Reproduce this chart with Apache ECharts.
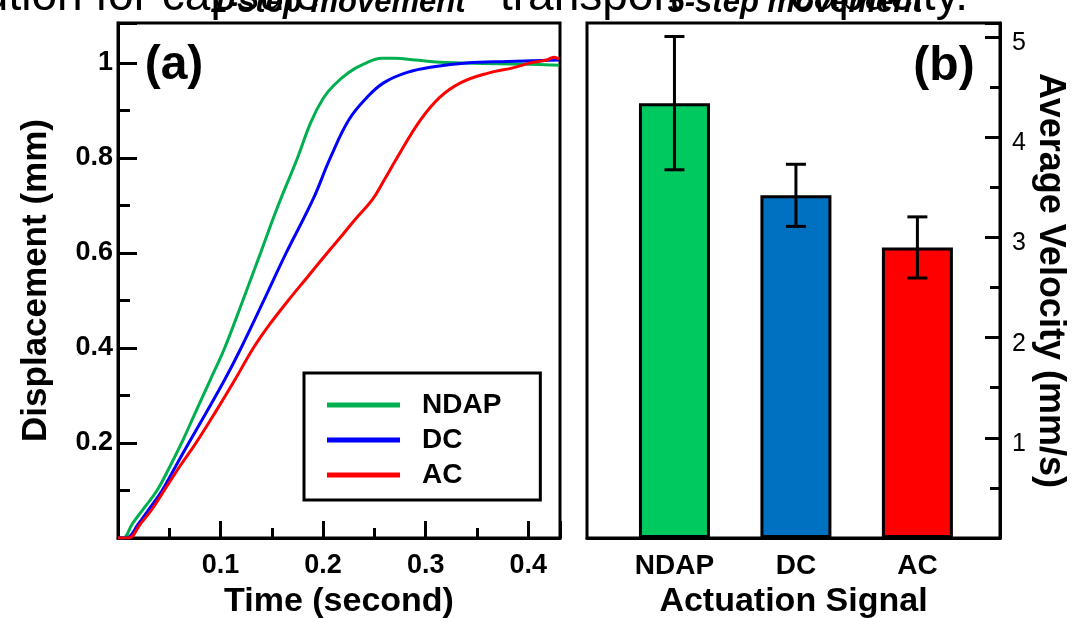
<!doctype html>
<html>
<head>
<meta charset="UTF-8" />
<title>Displacement and average velocity</title>
<script src="https://cdn.jsdelivr.net/npm/echarts/dist/echarts.min.js"></script>
<style>
  html, body { margin: 0; padding: 0; background: #fff; }
  #main { width: 1076px; height: 618px; }
</style>
</head>
<body>
<div id="main"></div>
<script>
  // ---- data: panel (a) displacement curves, [time (s), displacement (mm)]
  const ndapTime = [0, 0.005, 0.014, 0.025, 0.038, 0.05, 0.062, 0.075, 0.09, 0.104, 0.12, 0.139, 0.15, 0.158, 0.175, 0.188, 0.2, 0.21, 0.225, 0.24, 0.257, 0.27, 0.29, 0.31, 0.34, 0.37, 0.4, 0.43];
  const ndapDisp = [0, 0, 0.03, 0.062, 0.1, 0.148, 0.2, 0.262, 0.333, 0.4, 0.49, 0.6, 0.665, 0.71, 0.8, 0.875, 0.925, 0.952, 0.98, 0.998, 1.01, 1.01, 1.006, 1.002, 1.0, 0.998, 0.997, 0.995];

  const dcTime = [0, 0.008, 0.02, 0.03, 0.043, 0.056, 0.069, 0.085, 0.104, 0.12, 0.14, 0.164, 0.19, 0.207, 0.225, 0.243, 0.259, 0.282, 0.308, 0.34, 0.38, 0.43];
  const dcDisp = [0, 0, 0.03, 0.06, 0.1, 0.15, 0.2, 0.26, 0.333, 0.4, 0.49, 0.6, 0.712, 0.8, 0.88, 0.928, 0.958, 0.98, 0.992, 1.0, 1.003, 1.006];

  const acTime = [0, 0.01, 0.022, 0.033, 0.045, 0.06, 0.076, 0.095, 0.114, 0.132, 0.148, 0.166, 0.185, 0.204, 0.22, 0.231, 0.248, 0.26, 0.272, 0.295, 0.314, 0.334, 0.36, 0.386, 0.402, 0.418, 0.425, 0.43];
  const acDisp = [0, 0, 0.03, 0.06, 0.1, 0.15, 0.2, 0.265, 0.333, 0.4, 0.45, 0.5, 0.55, 0.6, 0.641, 0.67, 0.712, 0.755, 0.8, 0.88, 0.928, 0.958, 0.978, 0.99, 1.0, 1.006, 1.012, 1.008];

  // ---- data: panel (b) average velocity (mm/s) with error
  const signals = ['NDAP', 'DC', 'AC'];
  const velocity = [4.34, 3.42, 2.9];
  const velocityErr = [0.665, 0.31, 0.305];

  const lineColors = { NDAP: '#00B050', DC: '#0000FF', AC: '#FF0000' };
  const barColors = ['#00C95F', '#0070C0', '#FF0000'];

  const FONT = '"Liberation Sans", Arial, sans-serif';

  function pairs(xs, ys) {
    return xs.map((x, i) => [x, ys[i]]);
  }

  const chart = echarts.init(document.getElementById('main'));

  const frame = {
    show: true, borderColor: '#000', borderWidth: 3, backgroundColor: 'transparent',
    outerBoundsMode: 'none', containLabel: false
  };
  const blackLine = { color: '#000', width: 3 };

  // tick-only axis: placed on the opposite side with a negative offset so
  // its (outward) ticks land on the frame edge and point into the plot
  function tickAxis(base, interval, len, position, offset) {
    return Object.assign({}, base, {
      type: 'value', interval: interval, position: position, offset: offset,
      axisLine: { show: false, onZero: false },
      axisTick: { show: true, inside: false, length: len, lineStyle: blackLine },
      axisLabel: { show: false },
      splitLine: { show: false }
    });
  }

  const aX = { gridIndex: 0, min: 0, max: 0.431 };
  const aY = { gridIndex: 0, min: 0, max: 1.084 };
  const bY = { gridIndex: 1, min: 0, max: 5.14 };

  const option = {
    backgroundColor: '#fff',
    animation: false,
    textStyle: { fontFamily: FONT },
    grid: [
      Object.assign({ left: 118, top: 23, width: 442, height: 515 }, frame),
      Object.assign({ left: 587, top: 23, width: 413, height: 515 }, frame)
    ],
    legend: {
      data: ['NDAP', 'DC', 'AC'],
      orient: 'vertical',
      left: 304,
      top: 373,
      padding: [17, 39, 10, 23],
      itemGap: 5,
      itemWidth: 73,
      itemHeight: 5,
      icon: 'rect',
      borderColor: '#000',
      borderWidth: 3,
      borderRadius: 0,
      textStyle: {
        fontFamily: FONT, fontWeight: 'bold', fontSize: 28, color: '#000',
        lineHeight: 30, padding: [0, 0, 0, 17]
      }
    },
    xAxis: [
      Object.assign({}, aX, {
        type: 'value', interval: 0.1, position: 'bottom',
        name: 'Time (second)', nameLocation: 'middle', nameGap: 47,
        nameTextStyle: { fontFamily: FONT, fontWeight: 'bold', fontSize: 34, color: '#000' },
        axisLine: { show: true, onZero: false, lineStyle: blackLine },
        axisTick: { show: false },
        axisLabel: {
          margin: 14, fontFamily: FONT, fontWeight: 'bold', fontSize: 27, color: '#000',
          formatter: v => (v > 0.05 && v < 0.41) ? String(+v.toFixed(1)) : ''
        },
        splitLine: { show: false }
      }),
      tickAxis(aX, 0.1, 17, 'top', -515),
      tickAxis(aX, 0.05, 10, 'top', -515),
      {
        gridIndex: 1, type: 'value', min: 0.28, max: 3.68,
        name: 'Actuation Signal', nameLocation: 'middle', nameGap: 47,
        nameTextStyle: { fontFamily: FONT, fontWeight: 'bold', fontSize: 34, color: '#000' },
        axisLine: { show: true, onZero: false, lineStyle: blackLine },
        axisTick: { show: false },
        axisLabel: {
          margin: 14, fontFamily: FONT, fontWeight: 'bold', fontSize: 28, color: '#000',
          customValues: [1, 2, 3],
          formatter: v => signals[Math.round(v) - 1] || ''
        },
        splitLine: { show: false }
      }
    ],
    yAxis: [
      Object.assign({}, aY, {
        type: 'value', interval: 0.2, position: 'left',
        name: 'Displacement (mm)', nameLocation: 'middle', nameGap: 64,
        nameTextStyle: { fontFamily: FONT, fontWeight: 'bold', fontSize: 35, color: '#000' },
        axisLine: { show: true, onZero: false, lineStyle: blackLine },
        axisTick: { show: false },
        axisLabel: {
          margin: 5, fontFamily: FONT, fontWeight: 'bold', fontSize: 27, color: '#000',
          formatter: v => (v > 0.1 && v < 1.01) ? String(+v.toFixed(1)) : ''
        },
        splitLine: { show: false }
      }),
      tickAxis(aY, 0.2, 19, 'right', -442),
      tickAxis(aY, 0.1, 12, 'right', -442),
      Object.assign({}, bY, {
        type: 'value', position: 'right', interval: 1,
        name: 'Average Velocity (mm/s)', nameLocation: 'middle', nameGap: 32, nameRotate: -90,
        nameTextStyle: { fontFamily: FONT, fontWeight: 'bold', fontSize: 36, color: '#000' },
        axisLine: { show: true, onZero: false, lineStyle: blackLine },
        axisTick: { show: false },
        axisLabel: {
          margin: 12, fontFamily: FONT, fontSize: 25, color: '#000',
          verticalAlign: 'top', lineHeight: 12,
          formatter: v => (v > 0.5 && v < 5.01) ? String(Math.round(v)) : ''
        },
        splitLine: { show: false }
      }),
      tickAxis(bY, 1, 15, 'left', -413),
      tickAxis(bY, 0.5, 10, 'left', -413)
    ],
    graphic: [
      {
        type: 'text', left: -76, top: -26, silent: true, z: 1,
        style: { text: 'solution for capsule', font: '46px ' + FONT, fill: '#000' }
      },
      {
        type: 'text', left: 500, top: -26, silent: true, z: 1,
        style: { text: 'transport', font: '46px ' + FONT, fill: '#000' }
      },
      {
        type: 'text', x: 968, y: -3, silent: true, z: 1,
        style: { text: 'capacity.', font: '46px ' + FONT, fill: '#000', align: 'right', verticalAlign: 'middle' }
      },
      {
        type: 'text', x: 338, y: 3, silent: true, z: 2,
        style: { text: '1-step movement', font: 'italic bold 31px ' + FONT, fill: '#000', align: 'center', verticalAlign: 'middle' }
      },
      {
        type: 'text', x: 795, y: 3, silent: true, z: 2,
        style: { text: '5-step movement', font: 'italic bold 31px ' + FONT, fill: '#000', align: 'center', verticalAlign: 'middle' }
      },
      {
        type: 'text', x: 174, y: 66, silent: true, z: 5,
        style: { text: '(a)', font: 'bold 48px ' + FONT, fill: '#000', align: 'center', verticalAlign: 'middle' }
      },
      {
        type: 'text', x: 944, y: 67, silent: true, z: 5,
        style: { text: '(b)', font: 'bold 48px ' + FONT, fill: '#000', align: 'center', verticalAlign: 'middle' }
      }
    ],
    series: [
      {
        name: 'NDAP', type: 'line', xAxisIndex: 0, yAxisIndex: 0,
        data: pairs(ndapTime, ndapDisp), showSymbol: false, smooth: 0.4,
        lineStyle: { width: 3, color: lineColors.NDAP }, itemStyle: { color: lineColors.NDAP }
      },
      {
        name: 'DC', type: 'line', xAxisIndex: 0, yAxisIndex: 0,
        data: pairs(dcTime, dcDisp), showSymbol: false, smooth: 0.4,
        lineStyle: { width: 3, color: lineColors.DC }, itemStyle: { color: lineColors.DC }
      },
      {
        name: 'AC', type: 'line', xAxisIndex: 0, yAxisIndex: 0,
        data: pairs(acTime, acDisp), showSymbol: false, smooth: 0.4,
        lineStyle: { width: 3, color: lineColors.AC }, itemStyle: { color: lineColors.AC }
      },
      {
        name: 'Average velocity', type: 'bar', xAxisIndex: 3, yAxisIndex: 3,
        barWidth: 71,
        data: velocity.map((v, i) => ({
          value: [i + 1, v],
          itemStyle: { color: barColors[i], borderColor: '#000', borderWidth: 3 }
        }))
      },
      {
        name: 'Error', type: 'custom', xAxisIndex: 3, yAxisIndex: 3, z: 10,
        data: velocity.map((v, i) => [i + 1, v - velocityErr[i], v + velocityErr[i]]),
        renderItem: function (params, api) {
          const x = api.value(0);
          const top = api.coord([x, api.value(2)]);
          const bot = api.coord([x, api.value(1)]);
          const hw = 10;
          const st = { stroke: '#000', lineWidth: 3 };
          return {
            type: 'group',
            children: [
              { type: 'line', shape: { x1: top[0], y1: top[1], x2: bot[0], y2: bot[1] }, style: st },
              { type: 'line', shape: { x1: top[0] - hw, y1: top[1], x2: top[0] + hw, y2: top[1] }, style: st },
              { type: 'line', shape: { x1: bot[0] - hw, y1: bot[1], x2: bot[0] + hw, y2: bot[1] }, style: st }
            ]
          };
        }
      }
    ]
  };

  chart.setOption(option);
</script>
</body>
</html>
